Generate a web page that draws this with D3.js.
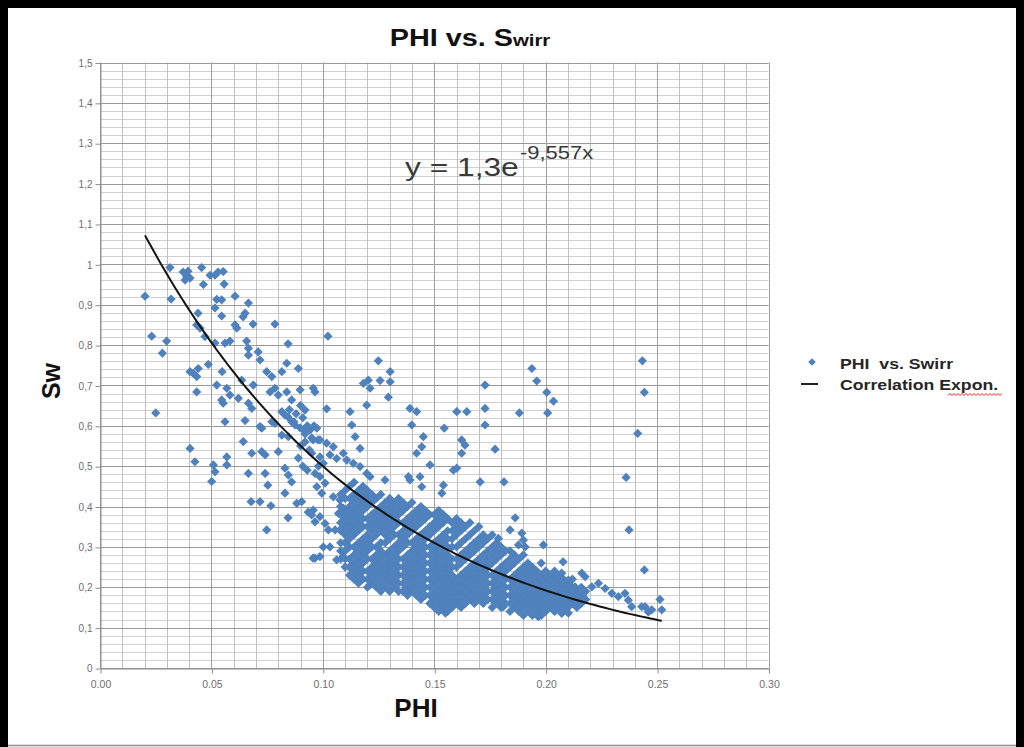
<!DOCTYPE html>
<html>
<head>
<meta charset="utf-8">
<script src="https://cdn.jsdelivr.net/npm/d3@7"></script>
<style>
  body { margin: 0; background: #fff; overflow: hidden; }
  svg { display: block; }
</style>
</head>
<body>
<svg id="chart" width="1024" height="747"></svg>
<script>
// ---- data (phi, sw) ----
const leftPoints = [
  [0.0314,0.992],[0.0389,0.969],[0.0373,0.981],[0.0404,0.966],[0.0382,0.961],[0.0395,0.983],
  [0.0456,0.992],[0.0516,0.973],[0.0553,0.982],[0.0530,0.981],[0.0494,0.973],
  [0.0464,0.950],[0.0557,0.951],[0.0202,0.921],[0.0319,0.914],[0.0524,0.913],[0.0546,0.912],
  [0.0606,0.921],[0.0666,0.904],[0.0516,0.892],[0.0440,0.879],[0.0546,0.872],[0.0651,0.879],[0.0642,0.870],
  [0.0687,0.852],[0.0785,0.852],[0.0606,0.850],[0.0614,0.842],[0.0434,0.850],[0.0449,0.842],
  [0.0471,0.821],[0.0232,0.822],[0.0299,0.810],[0.0280,0.780],[0.0516,0.805],[0.0561,0.805],[0.0583,0.810],
  [0.0658,0.810],[0.0666,0.792],[0.0666,0.775],[0.0710,0.783],[0.0718,0.763],[0.0844,0.803],
  [0.0404,0.734],[0.0419,0.730],[0.0441,0.742],[0.0486,0.752],[0.0434,0.722],[0.0548,0.734],
  [0.0434,0.684],[0.0524,0.701],[0.0569,0.693],[0.0546,0.664],[0.0553,0.656],[0.0636,0.713],[0.0688,0.701],
  [0.0748,0.734],[0.0771,0.722],[0.0816,0.734],[0.0838,0.755],[0.0890,0.742],
  [0.0763,0.684],[0.0785,0.693],[0.0800,0.676],[0.0838,0.684],[0.0860,0.664],[0.0583,0.676],[0.0621,0.668],
  [0.0666,0.656],[0.0681,0.643],[0.0250,0.632],[0.0561,0.610],[0.0651,0.613],[0.0718,0.598],[0.0726,0.594],
  [0.0771,0.610],[0.0785,0.606],[0.0816,0.635],[0.0830,0.627],[0.0844,0.622],[0.0860,0.610],[0.0875,0.602],
  [0.0898,0.595],[0.0920,0.587],[0.0816,0.577],[0.0845,0.573],[0.0643,0.561],[0.0404,0.544],[0.0426,0.511],
  [0.0726,0.536],[0.0741,0.528],[0.0681,0.532],[0.0569,0.523],[0.0569,0.503],[0.0509,0.503],[0.0516,0.486],
  [0.0501,0.462],[0.0666,0.482],[0.0741,0.482],[0.0753,0.453],[0.0800,0.536],[0.0830,0.495],[0.0845,0.478],
  [0.0860,0.461],[0.0830,0.433],[0.0678,0.412],[0.0718,0.412],[0.0767,0.402],[0.0844,0.372],[0.0748,0.342],
  [0.0883,0.408],[0.0905,0.412],[0.0934,0.386],[0.0950,0.379],[0.0956,0.272],
  [0.0898,0.689],[0.0920,0.639],[0.0978,0.565],[0.0957,0.693],[0.0965,0.684],
  [0.085,0.64],[0.088,0.63],[0.091,0.62],[0.093,0.60],[0.096,0.60],[0.090,0.65],[0.087,0.61],[0.092,0.58],
  [0.095,0.57],[0.090,0.55],[0.092,0.56],[0.094,0.54],[0.089,0.52],[0.091,0.50],[0.093,0.49],[0.098,0.50]
];

const midPoints = [
  [0.1023,0.822],[0.1249,0.761],[0.1302,0.734],[0.1182,0.705],[0.1204,0.713],[0.1212,0.693],[0.1257,0.712],
  [0.1302,0.709],[0.1294,0.671],[0.1197,0.651],[0.1017,0.642],[0.1122,0.635],[0.1130,0.602],[0.1391,0.643],
  [0.1421,0.635],[0.1399,0.602],[0.1451,0.573],[0.1444,0.548],[0.1421,0.532],[0.1545,0.594],[0.1601,0.635],
  [0.1646,0.635],[0.1728,0.701],[0.1728,0.643],[0.1728,0.602],[0.1623,0.565],[0.1638,0.552],[0.1623,0.532],
  [0.1601,0.495],[0.1586,0.490],[0.1706,0.461],[0.1481,0.503],[0.1384,0.474],[0.1391,0.466],[0.1436,0.474],
  [0.1444,0.449],[0.1541,0.453],[0.1534,0.433],[0.1279,0.466],[0.1145,0.573],[0.1167,0.544],
  [0.0943,0.590],[0.0973,0.594],[0.0957,0.565],[0.0987,0.565],[0.1017,0.557],[0.1047,0.548],
  [0.0950,0.532],[0.0987,0.523],[0.1002,0.507],[0.1032,0.528],[0.1062,0.519],[0.1092,0.532],[0.1107,0.515],
  [0.1137,0.507],[0.1167,0.499],[0.1197,0.482],[0.1212,0.474],[0.0965,0.482],[0.0987,0.474],[0.1010,0.458],
  [0.0973,0.449],[0.0995,0.433],[0.1047,0.424],[0.1077,0.416],[0.1092,0.396],[0.1070,0.383],
  [0.0957,0.391],[0.0987,0.375],[0.0965,0.362],[0.1010,0.358],[0.1025,0.342],[0.1055,0.342],[0.1077,0.342],
  [0.1002,0.300],[0.1032,0.300],[0.0965,0.272],[0.0987,0.276],[0.1062,0.268],[0.1092,0.276],
  [0.1212,0.206],[0.1384,0.193],[0.1530,0.161],[0.1550,0.136]
];

// dense cloud, one entry per phi column: [phi, [sw values]]
const clusterColumns = [
  [0.108,[.27,.29,.31,.34,.36,.38,.40,.43]],
  [0.110,[.25,.27,.29,.31,.33,.35,.37,.39,.42,.44]],
  [0.112,[.23,.25,.27,.30,.32,.34,.36,.38,.40,.42,.45]],
  [0.114,[.22,.24,.26,.28,.30,.33,.35,.37,.39,.41,.43,.46]],
  [0.116,[.21,.23,.25,.27,.29,.31,.34,.36,.38,.40,.42,.44]],
  [0.118,[.22,.24,.26,.28,.30,.32,.35,.37,.39,.41,.43,.45]],
  [0.120,[.20,.22,.24,.27,.29,.31,.33,.35,.37,.40,.42,.44]],
  [0.122,[.21,.23,.25,.27,.30,.32,.34,.36,.38,.41,.43]],
  [0.124,[.20,.22,.24,.26,.28,.30,.33,.35,.37,.39,.42]],
  [0.126,[.19,.21,.23,.25,.27,.29,.31,.34,.36,.38,.40,.43]],
  [0.128,[.20,.22,.24,.26,.28,.31,.33,.35,.37,.39,.41]],
  [0.130,[.19,.21,.23,.25,.27,.29,.32,.34,.36,.38,.40,.42]],
  [0.132,[.20,.22,.24,.26,.28,.30,.33,.35,.37,.39,.41]],
  [0.134,[.19,.21,.23,.25,.27,.29,.31,.33,.36,.38,.40,.42]],
  [0.136,[.19,.21,.23,.25,.27,.30,.32,.34,.36,.39,.41]],
  [0.138,[.18,.20,.22,.24,.26,.28,.31,.33,.35,.37,.40]],
  [0.140,[.19,.21,.23,.25,.27,.29,.31,.34,.36,.38,.41]],
  [0.142,[.18,.20,.22,.24,.26,.28,.30,.32,.35,.37,.39]],
  [0.144,[.17,.19,.21,.23,.25,.27,.29,.31,.33,.36,.38,.40]],
  [0.146,[.18,.20,.22,.24,.26,.28,.30,.32,.34,.37,.39]],
  [0.148,[.16,.18,.20,.22,.24,.26,.28,.30,.33,.35,.38]],
  [0.150,[.15,.17,.19,.21,.23,.25,.27,.29,.31,.34,.36,.38]],
  [0.152,[.14,.16,.18,.20,.22,.24,.26,.28,.30,.32,.35,.37,.39]],
  [0.154,[.15,.17,.19,.21,.23,.25,.27,.29,.31,.33,.36,.38]],
  [0.156,[.14,.16,.18,.20,.22,.24,.26,.28,.30,.32,.34,.37]],
  [0.158,[.15,.17,.19,.21,.23,.25,.27,.30,.32,.34,.36]],
  [0.160,[.16,.18,.20,.22,.25,.27,.30,.33,.35,.37]],
  [0.162,[.15,.17,.19,.21,.23,.26,.28,.31,.34,.36]],
  [0.164,[.16,.18,.20,.22,.24,.27,.29,.32,.35]],
  [0.166,[.17,.19,.21,.23,.25,.28,.30,.33,.36]],
  [0.168,[.16,.18,.20,.22,.24,.26,.29,.31,.34]],
  [0.170,[.17,.19,.21,.23,.25,.27,.30,.32,.35]],
  [0.172,[.16,.18,.20,.22,.24,.26,.28,.31,.33]],
  [0.174,[.17,.19,.21,.23,.25,.27,.29,.32]],
  [0.176,[.15,.17,.19,.21,.23,.26,.28,.30,.33]],
  [0.178,[.16,.18,.20,.22,.24,.27,.29,.31]],
  [0.180,[.15,.17,.19,.21,.23,.25,.28,.30]],
  [0.182,[.16,.18,.20,.22,.24,.26,.29]],
  [0.184,[.14,.16,.18,.20,.22,.25,.27,.29]],
  [0.186,[.15,.17,.19,.21,.23,.26,.28]],
  [0.188,[.14,.16,.18,.20,.22,.24,.27]],
  [0.190,[.13,.15,.17,.19,.21,.23,.25,.28]],
  [0.192,[.14,.16,.18,.20,.22,.24,.26]],
  [0.194,[.13,.15,.17,.19,.21,.23,.25]],
  [0.196,[.14,.16,.18,.20,.22,.24]],
  [0.198,[.13,.15,.17,.19,.21,.23,.26]],
  [0.200,[.14,.16,.18,.20,.22,.24]],
  [0.202,[.15,.17,.19,.21,.23]],
  [0.204,[.14,.16,.18,.20,.22,.24]],
  [0.206,[.15,.17,.19,.21,.23]],
  [0.208,[.14,.16,.18,.20,.22]],
  [0.210,[.15,.17,.19,.21]],
  [0.212,[.16,.18,.20,.22]],
  [0.214,[.15,.17,.19]],
  [0.216,[.16,.18,.20]],
  [0.218,[.17,.19]]
];

const rightPoints = [
  [0.1938,0.742],[0.1960,0.711],[0.2005,0.683],[0.2035,0.661],[0.1882,0.632],[0.2009,0.632],[0.1773,0.542],
  [0.1813,0.461],[0.2434,0.761],[0.2443,0.683],[0.2413,0.581],[0.2361,0.472],[0.2374,0.342],[0.2443,0.243],
  [0.2513,0.170],[0.2521,0.144],[0.2476,0.144],[0.2446,0.152],
  [0.1863,0.372],[0.1840,0.342],[0.1788,0.321],[0.1893,0.334],[0.1900,0.317],[0.1878,0.305],[0.1908,0.300],
  [0.1990,0.305],[0.2078,0.263],[0.2072,0.235],[0.2102,0.218],[0.2132,0.201],[0.2162,0.235],[0.2177,0.226],
  [0.2207,0.201],[0.2237,0.210],[0.2267,0.197],[0.2297,0.185],[0.2326,0.177],[0.2356,0.185],[0.2371,0.168],
  [0.2386,0.152],[0.2431,0.152],[0.2461,0.139],[0.1967,0.127],[0.1810,0.152],[0.2072,0.135],[0.2102,0.136]
];

// exponential trendline as printed on the chart: y = 1,3 e^(-9,557x)
const trendA = 1.3;
const trendB = -9.557;
const trendPhiRange = [0.0202, 0.2521];

const xTickValues = [0, 0.05, 0.10, 0.15, 0.20, 0.25, 0.30];
const yTickValues = [0, 0.1, 0.2, 0.3, 0.4, 0.5, 0.6, 0.7, 0.8, 0.9, 1.0, 1.1, 1.2, 1.3, 1.4, 1.5];
const legendLabels = ['PHI  vs. Swirr', 'Correlation Expon.'];

// ---- setup ----
const svg = d3.select('#chart');
const blue = '#4f81bd';
const sans = 'Liberation Sans, Arial, sans-serif';

const x = d3.scaleLinear().domain([0, 0.3]).range([100, 768.5]);
const y = d3.scaleLinear().domain([0, 1.5]).range([668, 62.5]);

svg.append('rect').attr('x', 0).attr('y', 0).attr('width', 1024).attr('height', 747).attr('fill', '#fff');

const graph = svg.append('g');

// grid
const grid = graph.append('g');
grid.selectAll('.hminor')
  .data(y.ticks(75))
  .enter()
  .append('line')
  .attr('x1', x(0)).attr('x2', x(0.3))
  .attr('y1', (d) => Math.round(y(d)) + 0.5).attr('y2', (d) => Math.round(y(d)) + 0.5)
  .attr('stroke', '#d0d0d0');
grid.selectAll('.vminor')
  .data(x.ticks(30))
  .enter()
  .append('line')
  .attr('y1', y(0)).attr('y2', y(1.5))
  .attr('x1', (d) => Math.round(x(d)) + 0.5).attr('x2', (d) => Math.round(x(d)) + 0.5)
  .attr('stroke', '#c0c0c0');
grid.selectAll('.hmajor')
  .data(yTickValues)
  .enter()
  .append('line')
  .attr('x1', x(0)).attr('x2', x(0.3))
  .attr('y1', (d) => Math.round(y(d)) + 0.5).attr('y2', (d) => Math.round(y(d)) + 0.5)
  .attr('stroke', '#9a9a9a');
grid.selectAll('.vmajor')
  .data(xTickValues)
  .enter()
  .append('line')
  .attr('y1', y(0)).attr('y2', y(1.5))
  .attr('x1', (d) => Math.round(x(d)) + 0.5).attr('x2', (d) => Math.round(x(d)) + 0.5)
  .attr('stroke', '#a0a0a0');

// axes
const yAxis = d3.axisLeft(y)
  .tickValues(yTickValues)
  .tickSize(5)
  .tickSizeOuter(0)
  .tickFormat((d) => d3.format('.1~f')(d).replace('.', ','));
const xAxis = d3.axisBottom(x)
  .tickValues(xTickValues)
  .tickSize(5)
  .tickSizeOuter(0)
  .tickFormat(d3.format('.2f'));

const gy = graph.append('g').attr('transform', `translate(${x(0) + 0.5},0.5)`).call(yAxis);
const gx = graph.append('g').attr('transform', `translate(0.5,${Math.round(y(0)) + 0.5})`).call(xAxis);

[gx, gy].forEach((g) => {
  g.select('.domain').attr('stroke', '#8c8c8c');
  g.selectAll('.tick line').attr('stroke', '#8c8c8c');
  g.selectAll('text')
    .attr('fill', '#6e6e6e')
    .attr('font-family', sans)
    .attr('font-size', '10px');
});
gy.selectAll('text').attr('x', -8);
gx.selectAll('text').attr('y', 12).attr('font-size', '10.5px');

// scatter
const allPoints = leftPoints
  .concat(midPoints)
  .concat(clusterColumns.flatMap(([phi, sws]) => sws.map((sw) => [phi, sw])))
  .concat(rightPoints);

const diamond = 'M0,-4.6L4.6,0L0,4.6L-4.6,0Z';

graph.append('g')
  .selectAll('path')
  .data(allPoints)
  .enter()
  .append('path')
  .attr('d', diamond)
  .attr('fill', blue)
  .attr('transform', (d) => `translate(${x(d[0])}, ${y(d[1])})`);

// trendline
const trendPhis = d3.range(0, 101).map((i) => trendPhiRange[0] + (trendPhiRange[1] - trendPhiRange[0]) * i / 100);
const line = d3.line()
  .x((d) => x(d))
  .y((d) => y(trendA * Math.exp(trendB * d)))
  .curve(d3.curveBasis);

graph.append('path')
  .datum(trendPhis)
  .attr('d', line)
  .attr('fill', 'none')
  .attr('stroke', '#141414')
  .attr('stroke-width', 2);

// equation (the screenshot is stretched sideways, hence the scaleX)
svg.append('text')
  .attr('transform', 'translate(405,176) scale(1.22,1)')
  .attr('fill', '#3a3a3a')
  .attr('font-family', sans)
  .attr('font-size', '26px')
  .text('y = 1,3e');
svg.append('text')
  .attr('transform', 'translate(520,159) scale(1.22,1)')
  .attr('fill', '#3a3a3a')
  .attr('font-family', sans)
  .attr('font-size', '18px')
  .text('-9,557x');

// title
const title = svg.append('text')
  .attr('transform', 'translate(470,46) scale(1.2,1)')
  .attr('text-anchor', 'middle')
  .attr('fill', '#111')
  .attr('font-weight', 'bold')
  .attr('font-family', sans);
title.append('tspan').attr('font-size', '24px').text('PHI vs. S');
title.append('tspan').attr('font-size', '17px').text('wirr');

// axis titles
svg.append('text')
  .attr('x', 416)
  .attr('y', 717)
  .attr('text-anchor', 'middle')
  .attr('font-family', sans)
  .attr('font-weight', 'bold')
  .attr('font-size', '26px')
  .attr('fill', '#111')
  .text('PHI');

svg.append('text')
  .attr('transform', 'translate(60,381) rotate(-90)')
  .attr('text-anchor', 'middle')
  .attr('font-family', sans)
  .attr('font-weight', 'bold')
  .attr('font-size', '25px')
  .attr('fill', '#111')
  .text('Sw');

// legend
const legend = svg.append('g').attr('transform', 'translate(800,0)');
legend.append('path')
  .attr('d', 'M0,-3.8L3.8,0L0,3.8L-3.8,0Z')
  .attr('fill', blue)
  .attr('transform', 'translate(12,362)');
legend.append('line')
  .attr('x1', 1).attr('x2', 18).attr('y1', 384).attr('y2', 384)
  .attr('stroke', '#222').attr('stroke-width', 2);
legend.selectAll('.leg')
  .data(legendLabels)
  .enter()
  .append('text')
  .attr('transform', (d, i) => `translate(40,${369 + i * 21}) scale(1.18,1)`)
  .attr('font-family', sans)
  .attr('font-weight', 'bold')
  .attr('font-size', '15px')
  .attr('fill', '#262626')
  .style('white-space', 'pre')
  .text((d) => d);

// spell-check squiggle under "Expon."
const squiggle = d3.range(0, 28).map((i) => [948 + i * 2, i % 2 === 0 ? 395.5 : 393.5]);
svg.append('path')
  .attr('d', d3.line()(squiggle))
  .attr('fill', 'none')
  .attr('stroke', '#e0241b')
  .attr('stroke-width', 1);

// frame of the screenshot, drawn last
const frame = svg.append('g');
frame.append('rect').attr('x', 0).attr('y', 0).attr('width', 1024).attr('height', 8).attr('fill', '#000');
frame.append('rect').attr('x', 0).attr('y', 0).attr('width', 8).attr('height', 747).attr('fill', '#000');
frame.append('rect').attr('x', 1016).attr('y', 0).attr('width', 8).attr('height', 747).attr('fill', '#000');
frame.append('line')
  .attr('x1', 8).attr('x2', 1016).attr('y1', 745.5).attr('y2', 745.5)
  .attr('stroke', '#8c8c8c').attr('stroke-width', 1.5);
</script>
</body>
</html>
